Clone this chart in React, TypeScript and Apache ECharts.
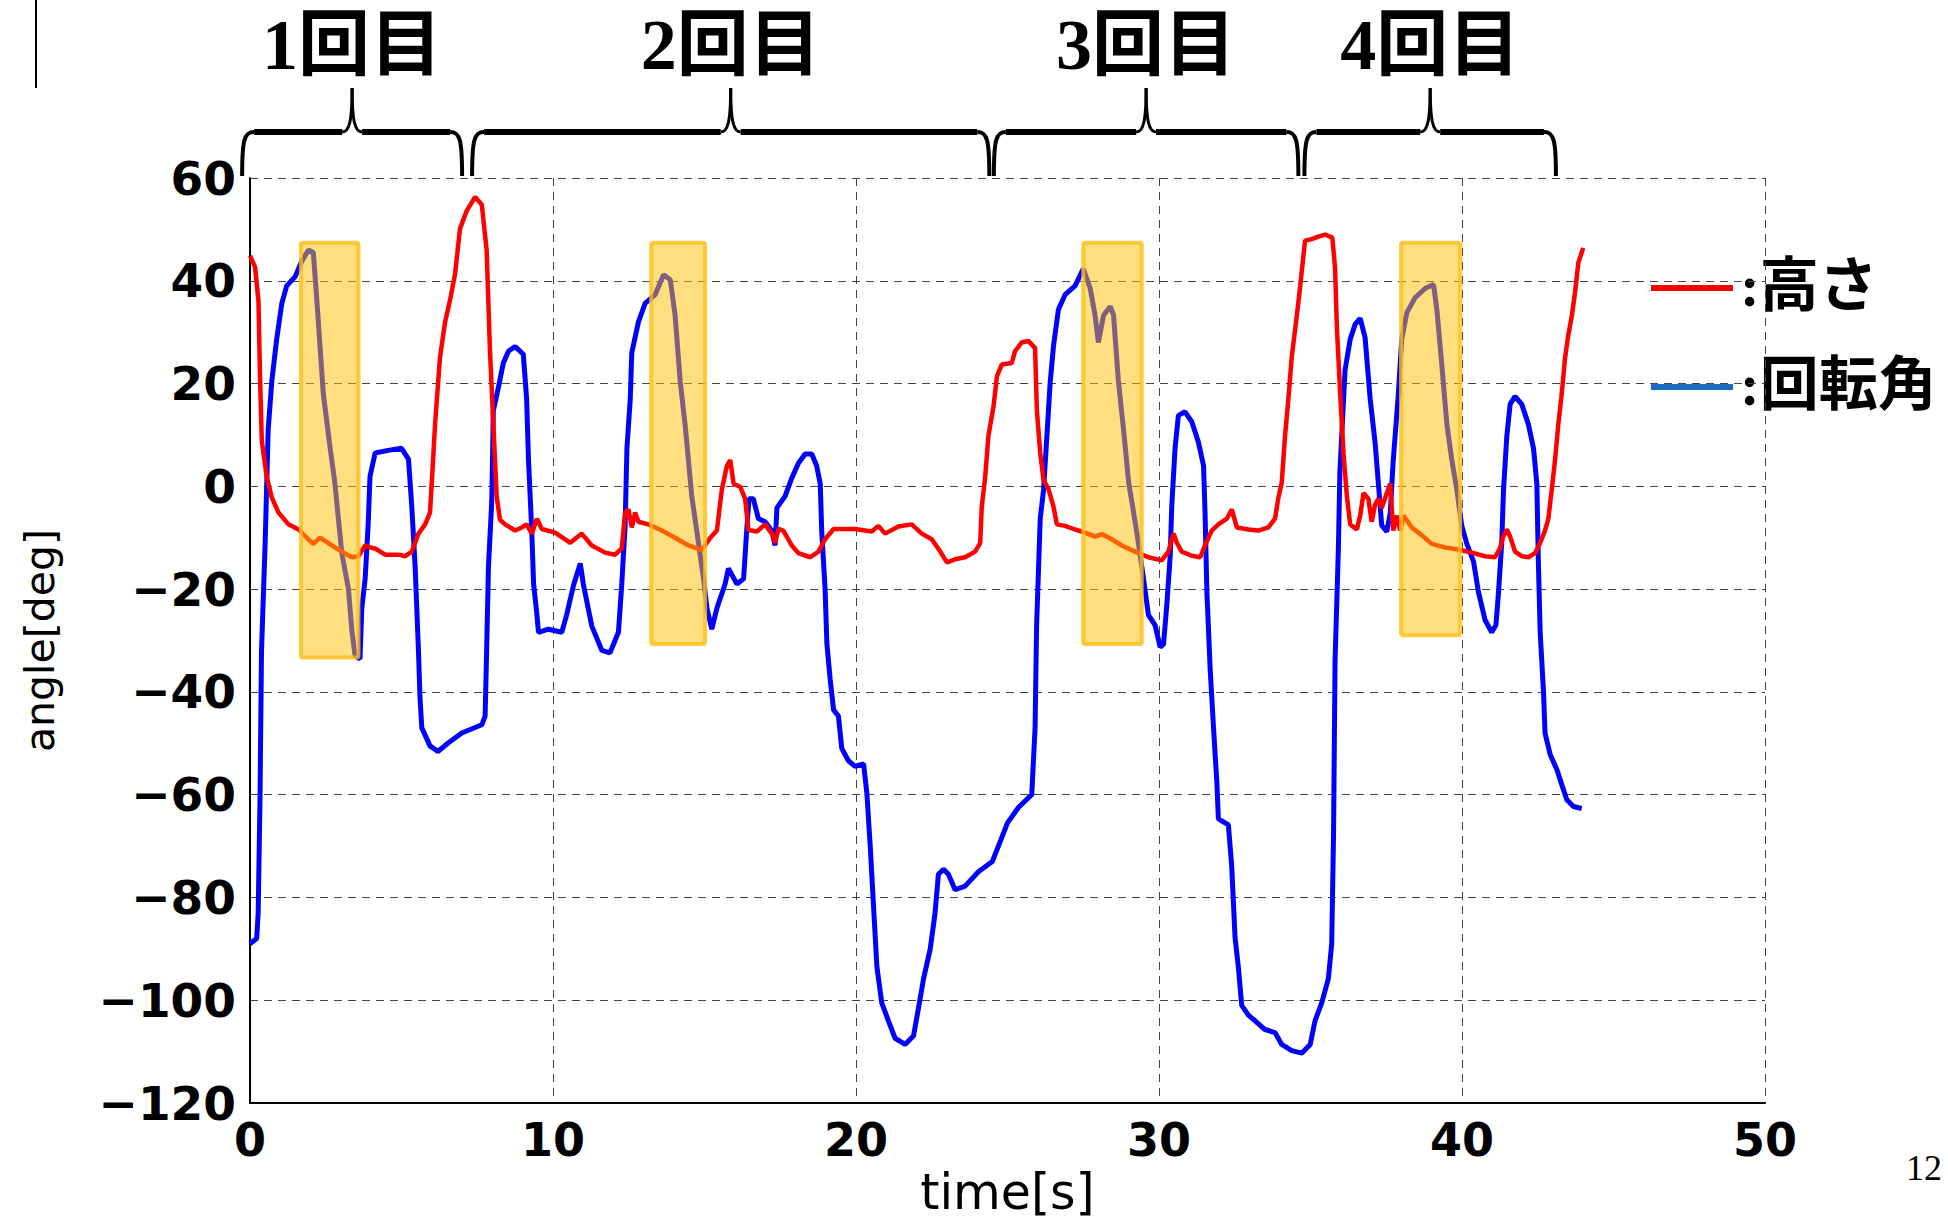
import React, { useEffect, useRef } from 'react';
import * as echarts from 'echarts';

// ---- data (time [s], value [deg]) ----
const heightData: [number, number][] = [
  [0, 44.9], [0.17, 42.6], [0.28, 36], [0.33, 21.6], [0.39, 8.8], [0.55, 1.9], [0.72, -2.2], [0.94, -5.1],
  [1.27, -7.4], [1.6, -8.4], [1.93, -10.3], [2.09, -11.2], [2.31, -10], [2.7, -11.5], [3.03, -12.7], [3.36, -13.8],
  [3.58, -13.6], [3.8, -11.5], [3.96, -11.9], [4.13, -12.1], [4.46, -13.3], [4.9, -13.3], [5.12, -13.6], [5.34, -12.7],
  [5.56, -9.2], [5.78, -7.4], [5.94, -5.1], [6.0, 0.7], [6.11, 12.3], [6.27, 25.1], [6.44, 32], [6.6, 36.2],
  [6.77, 41.4], [6.93, 50.1], [7.15, 53.6], [7.43, 56.3], [7.65, 54.8], [7.81, 46], [7.92, 26.3], [8.03, 12.3],
  [8.14, -1.9], [8.25, -6.5], [8.42, -7.4], [8.75, -8.6], [8.97, -8], [9.13, -7.4], [9.3, -9.2], [9.47, -6.3],
  [9.63, -8.3], [10.07, -9], [10.57, -11], [10.95, -9.2], [11.28, -11.5], [11.72, -12.9], [12.05, -13.3], [12.27, -12.1],
  [12.38, -5.1], [12.49, -4.5], [12.6, -8], [12.71, -5.1], [12.82, -6.9], [13.15, -7.4], [13.59, -8.6], [14.03, -10],
  [14.47, -11.5], [14.91, -12.4], [15.19, -10], [15.41, -8.6], [15.57, -0.7], [15.74, 4], [15.85, 5.1], [15.96, 0.5],
  [16.18, -0.1], [16.34, -2.4], [16.45, -8.5], [16.73, -8.8], [17.0, -7.4], [17.22, -9.2], [17.33, -11], [17.44, -8.3],
  [17.6, -8.6], [17.88, -11.5], [18.1, -13], [18.49, -13.8], [18.76, -12.7], [18.98, -10.3], [19.26, -8.3], [19.97, -8.3],
  [20.52, -8.8], [20.74, -7.7], [20.96, -9.2], [21.4, -7.8], [21.84, -7.4], [22.17, -9.2], [22.5, -10.3], [22.78, -12.7],
  [23.0, -14.8], [23.27, -14.2], [23.6, -13.8], [23.93, -12.7], [24.1, -11], [24.15, -4], [24.26, 1.6], [24.37, 9.8],
  [24.54, 15.6], [24.65, 21.4], [24.81, 23.7], [25.14, 24], [25.25, 26.3], [25.47, 28], [25.69, 28.3], [25.91, 26.9],
  [25.97, 14.7], [26.08, 6.5], [26.19, 1.2], [26.35, -0.5], [26.52, -4], [26.63, -7.4], [26.9, -7.7], [27.23, -8.4],
  [27.56, -9], [27.89, -9.8], [28.11, -9.3], [28.44, -10.3], [28.77, -11.5], [29.21, -12.7], [29.65, -13.8], [30.09, -14.4],
  [30.31, -12.7], [30.48, -9.2], [30.59, -11], [30.75, -12.7], [31.08, -13.5], [31.36, -13.8], [31.52, -11.5], [31.74, -8.6],
  [31.96, -7.4], [32.24, -6.3], [32.4, -4.5], [32.57, -8], [32.95, -8.4], [33.28, -8.6], [33.61, -8], [33.83, -6.3],
  [33.94, -2.2], [34.05, 0.7], [34.16, 9.8], [34.27, 17], [34.38, 25.1], [34.55, 33.3], [34.66, 39], [34.82, 47.8],
  [35.04, 48.1], [35.26, 48.6], [35.48, 49], [35.72, 48.4], [35.81, 42.6], [35.87, 31], [35.98, 18], [36.09, 6.3],
  [36.2, -1.9], [36.31, -7.4], [36.53, -8.4], [36.64, -5.7], [36.75, -1.3], [36.91, -2.4], [37.02, -6.9], [37.13, -3.6],
  [37.24, -2.4], [37.35, -4.2], [37.52, -1.3], [37.63, 0.5], [37.73, -8.6], [37.85, -5.7], [37.96, -8.6], [38.07, -5.7],
  [38.34, -8], [38.67, -9.5], [39.0, -11.2], [39.44, -11.9], [39.88, -12.3], [40.32, -12.9], [40.76, -13.6], [41.09, -13.8],
  [41.25, -12.1], [41.36, -9.8], [41.48, -8.4], [41.59, -9.8], [41.75, -12.7], [41.97, -13.6], [42.19, -13.8], [42.41, -13],
  [42.58, -11], [42.74, -8.6], [42.85, -6.3], [42.96, -0.7], [43.07, 5.1], [43.18, 12.1], [43.29, 17.9], [43.4, 24.9],
  [43.51, 29.5], [43.62, 33], [43.73, 37.7], [43.84, 43.5], [44.0, 46.4],
];

const rotationData: [number, number][] = [
  [0, -89], [0.22, -88], [0.27, -83], [0.33, -61], [0.38, -32], [0.5, -11], [0.6, 11], [0.72, 20.5],
  [0.88, 28.6], [1.05, 35.6], [1.21, 39], [1.49, 40.8], [1.7, 43.7], [1.93, 46], [2.09, 45.5], [2.2, 36.7],
  [2.42, 18], [2.64, 7.7], [2.8, 0.7], [3.03, -13], [3.25, -20], [3.36, -28], [3.47, -33], [3.63, -33.6],
  [3.69, -23.7], [3.8, -18], [3.9, -7.4], [3.96, 1.9], [4.13, 6.5], [4.56, 7], [5.0, 7.4], [5.23, 5.3],
  [5.34, -4], [5.45, -15.6], [5.56, -32], [5.61, -41], [5.67, -47], [5.94, -50.5], [6.2, -51.6], [6.55, -49.9],
  [6.99, -48], [7.65, -46.4], [7.76, -44.7], [7.81, -32], [7.87, -15.6], [7.98, -2.8], [8.03, 14.7], [8.2, 19.3],
  [8.36, 24], [8.53, 26.3], [8.75, 27.2], [9.02, 25.7], [9.13, 17], [9.19, 5.3], [9.3, -8.8], [9.36, -19],
  [9.47, -25], [9.52, -28.4], [9.85, -27.8], [10.29, -28.4], [10.45, -25], [10.68, -19.2], [10.9, -15], [11.0, -19],
  [11.28, -27.2], [11.61, -31.9], [11.88, -32.4], [12.16, -28.4], [12.27, -19], [12.38, -7.7], [12.44, 7.4], [12.55, 17],
  [12.6, 26], [12.82, 32], [13.04, 35.6], [13.37, 37.3], [13.65, 41.2], [13.87, 40.2], [14.03, 33.3], [14.2, 20.3],
  [14.36, 12], [14.58, -1.9], [14.8, -11], [14.97, -18], [15.08, -23.7], [15.24, -27.8], [15.41, -23.7], [15.68, -19],
  [15.79, -16], [16.07, -19], [16.29, -18], [16.4, -8], [16.47, -2.4], [16.61, -2.4], [16.78, -6.3], [17.0, -6.9],
  [17.22, -8.6], [17.33, -11.5], [17.39, -4.2], [17.66, -1.9], [17.88, 1.6], [18.1, 4.5], [18.32, 6.3], [18.54, 6.3],
  [18.7, 4], [18.82, 0.5], [18.87, -8.8], [18.98, -20], [19.04, -30.7], [19.15, -37.7], [19.26, -43.5], [19.42, -44.7],
  [19.53, -51], [19.75, -53.4], [19.97, -54.5], [20.25, -54], [20.36, -59.8], [20.47, -70], [20.58, -81.9], [20.69, -93.5],
  [20.85, -100.5], [21.07, -104], [21.29, -107.4], [21.62, -108.6], [21.9, -106.9], [22.06, -101.6], [22.23, -95.8], [22.45, -90],
  [22.61, -83], [22.72, -75.5], [22.89, -74.5], [23.05, -75.5], [23.27, -78.5], [23.6, -77.8], [24.04, -75], [24.5, -73],
  [24.8, -68.5], [25.0, -65.5], [25.36, -62.5], [25.8, -60], [25.91, -47], [25.96, -27.2], [26.08, -6.3], [26.19, -0.7],
  [26.3, 9.8], [26.41, 20.3], [26.52, 27.4], [26.68, 34.4], [26.9, 37.3], [27.23, 39], [27.5, 42.3], [27.73, 38.5],
  [27.89, 33.3], [28.0, 28], [28.17, 33.3], [28.39, 35], [28.5, 33.3], [28.66, 20.5], [28.83, 11], [29.0, 0.7],
  [29.16, -5], [29.32, -11], [29.49, -18], [29.65, -25], [29.87, -27], [30.04, -31.3], [30.15, -30.7], [30.26, -22.9],
  [30.37, -13.5], [30.42, -4], [30.53, 7.4], [30.64, 13.8], [30.86, 14.5], [31.08, 12.6], [31.3, 8.6], [31.47, 4],
  [31.52, -5.1], [31.58, -20.5], [31.69, -35.7], [31.8, -47], [31.91, -57.7], [31.96, -64.7], [32.29, -65.9], [32.4, -73.9],
  [32.51, -87.8], [32.62, -93.6], [32.73, -101], [32.95, -102.9], [33.17, -104], [33.5, -105.7], [33.83, -106.3], [34.05, -108.6],
  [34.38, -109.8], [34.71, -110.3], [34.99, -108.6], [35.15, -104], [35.37, -100.5], [35.59, -95.8], [35.7, -89], [35.76, -68],
  [35.81, -34.2], [35.92, -12.1], [35.97, 2.8], [36.14, 22.6], [36.31, 28.6], [36.47, 31.5], [36.64, 32.7], [36.8, 29],
  [36.97, 17], [37.13, 8.6], [37.24, 0.5], [37.35, -7.6], [37.52, -8.8], [37.63, -5.3], [37.73, 5], [37.9, 18],
  [38.01, 28.6], [38.18, 33.8], [38.45, 36.7], [38.78, 38.5], [39.06, 39.3], [39.17, 34.4], [39.33, 23.9], [39.5, 12.1],
  [39.66, 5.3], [39.83, -0.7], [39.99, -7.6], [40.16, -11.2], [40.38, -14.6], [40.54, -20.5], [40.76, -26], [40.98, -28.4],
  [41.12, -27], [41.2, -21], [41.31, -11.2], [41.37, -0.7], [41.48, 9.8], [41.59, 16], [41.75, 17.5], [41.97, 16],
  [42.19, 12.1], [42.36, 7.4], [42.47, 0.5], [42.52, -14.6], [42.58, -28.4], [42.69, -40], [42.74, -48], [42.91, -52.2],
  [43.13, -55.1], [43.29, -58], [43.46, -61], [43.68, -62.3], [43.95, -62.7],
];

const highlightStart = [1.68, 13.24, 27.5, 37.99];
const highlightEnd = [3.58, 15.02, 29.43, 39.94];
const highlightTop = [47.4, 47.4, 47.4, 47.4];
const highlightBottom = [-33.3, -30.7, -30.7, -29];

const trialLabels = ['1回目', '2回目', '3回目', '4回目'];
const trialStart = [-0.26, 7.33, 24.55, 34.8];
const trialEnd = [7.0, 24.4, 34.6, 43.1];

const legendLabels = [':高さ', ':回転角'];
const legendColors = ['#ff0000', '#1a6cc4'];

const xMin = 0, xMax = 50, xStep = 10;
const yMin = -120, yMax = 60, yStep = 20;

const TICK_FONT = "'DejaVu Sans', 'Liberation Sans', sans-serif";
const JP_FONT = "'Liberation Serif', 'Noto Sans CJK JP', serif";

export default function App() {
  const ref = useRef<HTMLDivElement>(null);

  useEffect(() => {
    if (!ref.current) return;
    const chart = echarts.init(ref.current, undefined, { renderer: 'svg' });

    const braceRows = trialStart.map((s, i) => [s, trialEnd[i], i]);
    const rectRows = highlightStart.map((s, i) => [s, highlightEnd[i], highlightTop[i], highlightBottom[i]]);

    const minusFmt = (v: number) => (v < 0 ? '\u2212' + Math.abs(v) : String(v));

    const option: any = {
      animation: false,
      backgroundColor: '#ffffff',
      grid: { left: 250, top: 178, width: 1515, height: 925, containLabel: false, outerBoundsMode: 'none' },
      xAxis: {
        type: 'value',
        min: xMin,
        max: xMax,
        interval: xStep,
        name: 'time[s]',
        nameLocation: 'middle',
        nameGap: 62,
        nameTextStyle: { fontFamily: TICK_FONT, fontSize: 49, color: '#000' },
        axisLine: { show: true, onZero: false, lineStyle: { color: '#000', width: 2 } },
        axisTick: { show: false },
        axisLabel: { fontFamily: TICK_FONT, fontWeight: 'bold', fontSize: 46, color: '#000', margin: 14 },
        splitLine: { show: true, lineStyle: { color: '#444', width: 1, type: [8, 6] } },
      },
      yAxis: {
        type: 'value',
        min: yMin,
        max: yMax,
        interval: yStep,
        name: 'angle[deg]',
        nameLocation: 'middle',
        nameGap: 190,
        nameTextStyle: { fontFamily: TICK_FONT, fontSize: 41, color: '#000' },
        axisLine: { show: true, lineStyle: { color: '#000', width: 2 } },
        axisTick: { show: false },
        axisLabel: { fontFamily: TICK_FONT, fontWeight: 'bold', fontSize: 47, color: '#000', margin: 14, formatter: minusFmt },
        splitLine: { show: true, lineStyle: { color: '#444', width: 1, type: [8, 6] } },
      },
      series: [
        {
          name: '回転角',
          type: 'line',
          data: rotationData,
          showSymbol: false,
          lineStyle: { color: '#0000ff', width: 5 },
          z: 2,
        },
        {
          name: '高さ',
          type: 'line',
          data: heightData,
          showSymbol: false,
          lineStyle: { color: '#ff0000', width: 4.5 },
          z: 3,
        },
        {
          type: 'custom',
          name: 'highlight',
          data: rectRows,
          z: 5,
          clip: false,
          renderItem: (params: any, api: any) => {
            const p0 = api.coord([api.value(0), api.value(2)]);
            const p1 = api.coord([api.value(1), api.value(3)]);
            return {
              type: 'rect',
              shape: { x: p0[0], y: p0[1], width: p1[0] - p0[0], height: p1[1] - p0[1], r: 2 },
              style: { fill: 'rgba(255,192,0,0.5)', stroke: 'rgba(255,190,20,0.8)', lineWidth: 4 },
            };
          },
        },
        {
          type: 'custom',
          name: 'braces',
          data: braceRows,
          z: 6,
          clip: false,
          renderItem: (params: any, api: any) => {
            const x0 = api.coord([api.value(0), 0])[0];
            const x1 = api.coord([api.value(1), 0])[0];
            const idx = api.value(2);
            const top = params.coordSys.y;
            const yB = top - 2;
            const yBar = top - 46;
            const yTip = top - 90;
            const xm = (x0 + x1) / 2;
            const st = { stroke: '#000', lineWidth: 4, fill: null };
            return {
              type: 'group',
              children: [
                { type: 'bezierCurve', shape: { x1: x0, y1: yB, cpx1: x0, cpy1: yBar + 8, cpx2: x0 + 2, cpy2: yBar, x2: x0 + 12, y2: yBar }, style: st },
                { type: 'line', shape: { x1: x0 + 12, y1: yBar, x2: xm - 10, y2: yBar }, style: { stroke: '#000', lineWidth: 6 } },
                { type: 'bezierCurve', shape: { x1: xm - 10, y1: yBar, cpx1: xm - 3, cpy1: yBar, cpx2: xm, cpy2: yBar - 10, x2: xm, y2: yTip }, style: { stroke: '#000', lineWidth: 3, fill: null } },
                { type: 'bezierCurve', shape: { x1: xm + 10, y1: yBar, cpx1: xm + 3, cpy1: yBar, cpx2: xm, cpy2: yBar - 10, x2: xm, y2: yTip }, style: { stroke: '#000', lineWidth: 3, fill: null } },
                { type: 'line', shape: { x1: xm + 10, y1: yBar, x2: x1 - 12, y2: yBar }, style: { stroke: '#000', lineWidth: 6 } },
                { type: 'bezierCurve', shape: { x1: x1, y1: yB, cpx1: x1, cpy1: yBar + 8, cpx2: x1 - 2, cpy2: yBar, x2: x1 - 12, y2: yBar }, style: st },
                {
                  type: 'text',
                  style: {
                    text: trialLabels[idx],
                    x: xm,
                    y: top - 133,
                    align: 'center',
                    verticalAlign: 'middle',
                    fill: '#000',
                    fontSize: 72,
                    fontWeight: 'bold',
                    fontFamily: JP_FONT,
                  },
                },
              ],
            };
          },
        },
      ],
      graphic: [
        { type: 'line', shape: { x1: 36, y1: 0, x2: 36, y2: 88 }, style: { stroke: '#000', lineWidth: 2 } },
        ...legendLabels.flatMap((lab, i) => {
          const y = 288 + i * 99;
          return [
            { type: 'line', shape: { x1: 1651, y1: y, x2: 1733, y2: y }, style: { stroke: legendColors[i], lineWidth: 6 } },
            {
              type: 'text',
              x: 1740,
              y: y - 2,
              style: { text: lab, fill: '#000', fontSize: 59, fontWeight: 'bold', fontFamily: JP_FONT, verticalAlign: 'middle', align: 'left' },
            },
          ];
        }),
        {
          type: 'text',
          x: 1906,
          y: 1168,
          style: { text: '12', fill: '#000', fontSize: 36, fontFamily: "'Liberation Serif', serif", verticalAlign: 'middle' },
        },
      ],
    };

    chart.setOption(option);
    return () => chart.dispose();
  }, []);

  return <div ref={ref} style={{ position: 'absolute', left: 0, top: 0, width: 1948, height: 1224 }} />;
}
